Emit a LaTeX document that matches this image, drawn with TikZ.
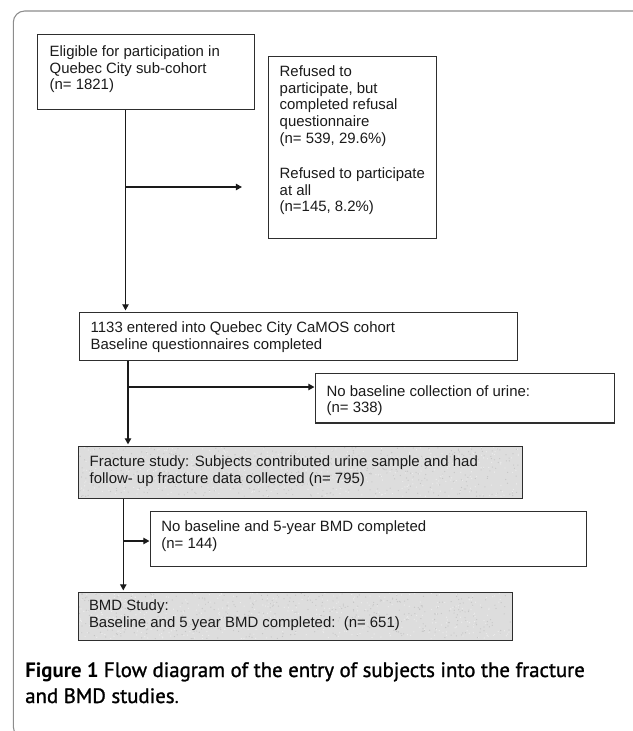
\documentclass[tikz,border=0pt]{standalone}
\usepackage{fontspec}
\setmainfont{Liberation Sans}
\newfontfamily\capfont{PT Sans}
\newfontfamily\capsemi[FakeBold=1.2]{PT Sans}
\usetikzlibrary{arrows.meta,backgrounds}
\newdimen\px \px=0.75pt
\definecolor{framecol}{HTML}{8C8C8C}
\definecolor{ink}{HTML}{1A1A1A}
\definecolor{boxline}{HTML}{2E2E2E}
\definecolor{shadecol}{HTML}{DDDDDD}
\definecolor{speckd}{HTML}{C4C4C4}
\definecolor{speckl}{HTML}{ECECEC}
% width, height, left pad, top pad, text
\newcommand\bt[5]{\parbox[c][#2\px][t]{#1\px}{\leftskip=#3\px\rightskip=0pt plus 1fil\parfillskip=0pt plus 1fil\vspace*{#4\px}\strut#5}}
\tikzset{
  bx/.style={draw=boxline, line width=1.05pt, inner sep=0pt, anchor=north west, text=ink,
     font=\fontsize{11.2pt}{12.5pt}\selectfont},
  arr/.style={draw=ink, line width=0.95pt, -{Triangle[length=4.6pt,width=4.8pt]}, shorten >=1.2pt},
  captext/.style={anchor=base west, inner sep=0pt, text=black}
}
\begin{document}
\begin{tikzpicture}[x=0.75pt,y=-0.75pt]
\useasboundingbox (0,0) rectangle (632,731);
\draw[framecol, line width=0.8pt, rounded corners=8.5pt] (13.3,11) rectangle (680,738);

\node[bx] (b1) at (37,34) {\bt{217}{75}{12}{10.3}{Eligible for participation in\\Quebec City sub-cohort\\(n= 1821)}};
\node[bx] (b2) at (268,56) {\bt{168}{182}{11}{8.3}{Refused to\\participate, but\\completed refusal\\questionnaire\\(n= 539, 29.6\%)\\[18.4\px]Refused to participate\\at all\\(n=145, 8.2\%)}};
\node[bx] (b3) at (78.5,312) {\bt{438.5}{47.5}{11.5}{8.6}{1133 entered into Quebec City CaMOS cohort\\Baseline questionnaires completed}};
\node[bx] (b4) at (315,373) {\bt{298.5}{49.3}{11}{10.8}{No baseline collection of urine:\\(n= 338)}};
\node[bx] (b5) at (78,446) {\bt{444}{51.5}{11}{8.3}{Fracture study: Subjects contributed urine sample and had\\follow- up fracture data collected (n= 795)}};
\node[bx] (b6) at (150,510.7) {\bt{435.5}{55.3}{10.7}{8.9}{No baseline and 5-year BMD completed\\(n= 144)}};
\node[bx] (b7) at (77.5,592) {\bt{434.5}{48}{10.8}{6.6}{BMD Study:\\Baseline and 5 year BMD completed:~~(n= 651)}};

\begin{scope}[on background layer]
  \fill[shadecol] (b5.north west) rectangle (b5.south east);
  \fill[shadecol] (b7.north west) rectangle (b7.south east);
  \pgfmathsetseed{11}
  \foreach \i in {1,...,450}{
    \fill[speckd] ({79+442*rnd},{447+49.5*rnd}) circle[radius=0.45pt];
    \fill[speckl] ({79+442*rnd},{447+49.5*rnd}) circle[radius=0.5pt];
  }
  \foreach \i in {1,...,420}{
    \fill[speckd] ({78.5+432.5*rnd},{593+46*rnd}) circle[radius=0.45pt];
    \fill[speckl] ({78.5+432.5*rnd},{593+46*rnd}) circle[radius=0.5pt];
  }
\end{scope}

\coordinate (v1) at (125.5,0);
\coordinate (j1) at (125.5,187);
\coordinate (e1) at (242,187);
\coordinate (j2) at (128,387);
\coordinate (j3) at (123.3,541);

\draw[arr] (b1.south -| v1) -- (b3.north -| v1);
\draw[arr, shorten >=0pt] (j1) -- (e1);
\draw[arr] (b3.south -| j2) -- (b5.north -| j2);
\draw[arr, shorten >=0.4pt] (j2) -- (j2 -| b4.west);
\draw[arr] (b5.south -| j3) -- (b7.north -| j3);
\draw[arr, shorten >=0.4pt] (j3) -- (j3 -| b6.west);

\node[captext] (cap1) at (25,677) {\capfont\fontsize{15.6pt}{19pt}\selectfont\bfseries Figure 1 {\mdseries\capsemi Flow diagram of the entry of subjects into the fracture}};
\node[captext] (cap2) at (25,703) {\capfont\fontsize{15.6pt}{19pt}\selectfont{\capsemi and BMD studies}.};
\end{tikzpicture}
\end{document}
